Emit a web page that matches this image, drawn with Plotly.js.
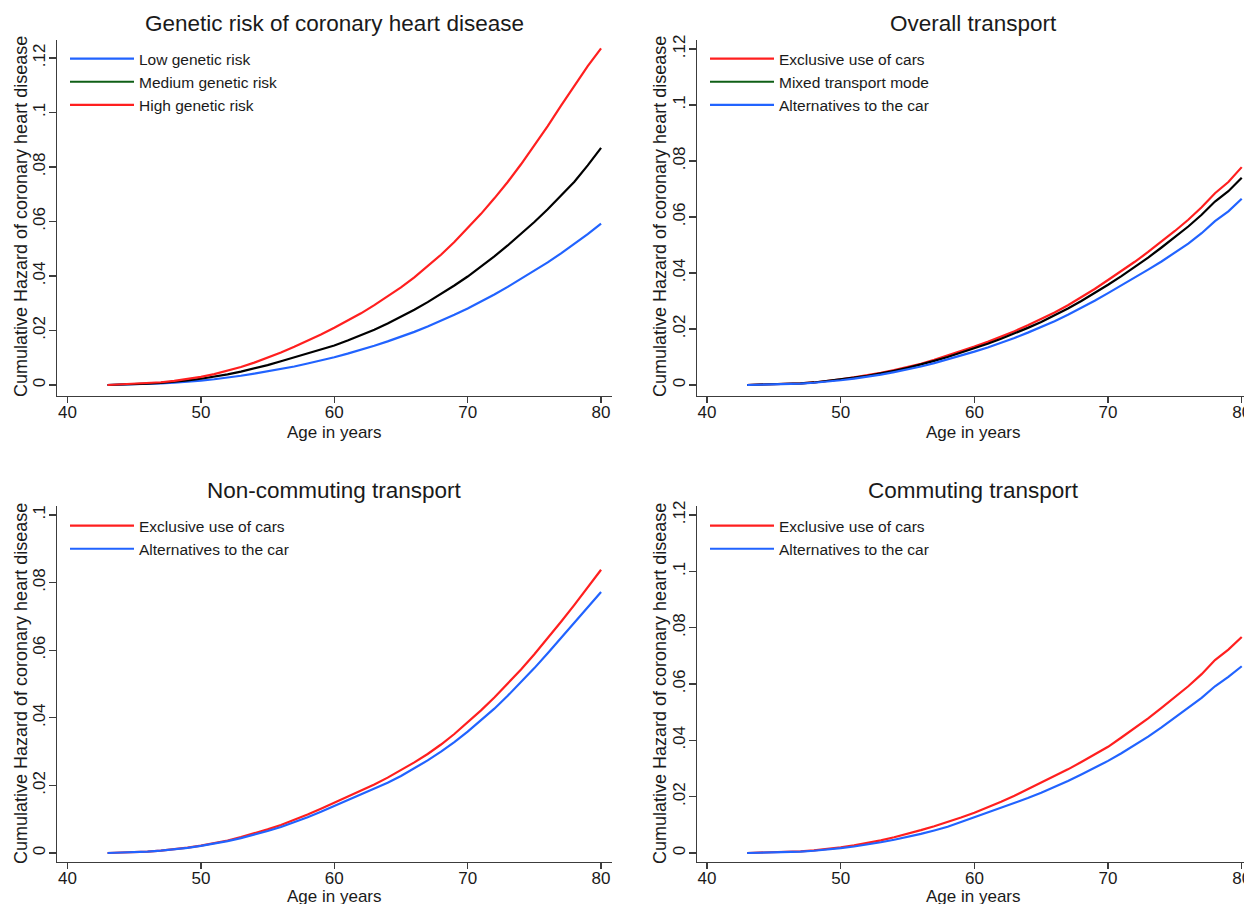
<!DOCTYPE html>
<html>
<head>
<meta charset="utf-8">
<script src="https://cdn.plot.ly/plotly-3.0.1.min.js"></script>
<style>html,body{margin:0;padding:0;background:#fff;overflow:hidden;}#chart{width:1244px;height:904px;}</style>
</head>
<body>
<div id="chart"></div>
<script>
// ---- data ----
const ages = [43,44,45,46,47,48,49,50,51,52,53,54,55,56,57,58,59,60,61,62,63,64,65,66,67,68,69,70,71,72,73,74,75,76,77,78,79,80];

// Panel 1: Genetic risk
const geneticLow = [0,0.0001,0.0002,0.0004,0.0006,0.0009,0.0012,0.0016,0.0021,0.0027,0.0034,0.0042,0.0050,0.0059,0.0068,0.0079,0.0090,0.0102,0.0115,0.0129,0.0144,0.0160,0.0177,0.0195,0.0215,0.0236,0.0258,0.0281,0.0306,0.0332,0.0360,0.0389,0.0419,0.0450,0.0483,0.0518,0.0554,0.0592];
const geneticMedium = [0,0.0001,0.0003,0.0005,0.0008,0.0012,0.0017,0.0023,0.0030,0.0039,0.0049,0.0060,0.0073,0.0087,0.0102,0.0116,0.0130,0.0145,0.0163,0.0182,0.0203,0.0226,0.0250,0.0276,0.0304,0.0334,0.0365,0.0398,0.0434,0.0472,0.0512,0.0554,0.0598,0.0645,0.0694,0.0746,0.0806,0.0870];
const geneticHigh = [0,0.0002,0.0004,0.0006,0.0010,0.0015,0.0022,0.0030,0.0040,0.0052,0.0066,0.0082,0.0100,0.0119,0.0140,0.0162,0.0185,0.0210,0.0236,0.0263,0.0293,0.0325,0.0358,0.0395,0.0435,0.0478,0.0525,0.0575,0.0628,0.0685,0.0745,0.0810,0.0878,0.0950,0.1025,0.1100,0.1170,0.1235];

// Panel 2: Overall transport
const overallCars = [0,0.0001,0.0002,0.0004,0.0006,0.0009,0.0014,0.0020,0.0027,0.0034,0.0043,0.0053,0.0064,0.0076,0.0090,0.0105,0.0120,0.0137,0.0154,0.0172,0.0192,0.0213,0.0235,0.0259,0.0285,0.0313,0.0343,0.0375,0.0407,0.0440,0.0475,0.0512,0.0550,0.0590,0.0635,0.0685,0.0725,0.0778];
const overallMixed = [0,0.0001,0.0002,0.0004,0.0006,0.0009,0.0014,0.0019,0.0026,0.0033,0.0041,0.0051,0.0061,0.0073,0.0086,0.0100,0.0115,0.0131,0.0147,0.0165,0.0184,0.0204,0.0225,0.0248,0.0273,0.0300,0.0328,0.0358,0.0389,0.0421,0.0455,0.0491,0.0528,0.0566,0.0608,0.0655,0.0692,0.0740];
const overallAlt = [0,0.0001,0.0002,0.0003,0.0005,0.0008,0.0012,0.0017,0.0023,0.0029,0.0037,0.0046,0.0055,0.0066,0.0078,0.0091,0.0105,0.0119,0.0134,0.0150,0.0168,0.0187,0.0207,0.0228,0.0251,0.0275,0.0301,0.0328,0.0355,0.0383,0.0412,0.0441,0.0472,0.0505,0.0542,0.0585,0.0620,0.0665];

// Panel 3: Non-commuting transport
const nonCommCars = [0,0.0001,0.0002,0.0004,0.0007,0.0011,0.0016,0.0022,0.0029,0.0037,0.0047,0.0058,0.0070,0.0083,0.0098,0.0114,0.0131,0.0149,0.0166,0.0184,0.0203,0.0223,0.0245,0.0268,0.0293,0.0321,0.0352,0.0386,0.0422,0.0460,0.0500,0.0543,0.0588,0.0635,0.0684,0.0734,0.0785,0.0838];
const nonCommAlt = [0,0.0001,0.0002,0.0004,0.0007,0.0010,0.0015,0.0021,0.0027,0.0035,0.0044,0.0054,0.0065,0.0077,0.0091,0.0106,0.0122,0.0139,0.0155,0.0172,0.0190,0.0208,0.0228,0.0250,0.0274,0.0300,0.0328,0.0359,0.0392,0.0427,0.0465,0.0505,0.0547,0.0591,0.0636,0.0681,0.0726,0.0772];

// Panel 4: Commuting transport
const commCars = [0,0.0001,0.0002,0.0004,0.0006,0.0009,0.0014,0.0020,0.0027,0.0035,0.0045,0.0056,0.0068,0.0081,0.0095,0.0110,0.0126,0.0143,0.0162,0.0182,0.0203,0.0226,0.0250,0.0273,0.0297,0.0323,0.0349,0.0377,0.0410,0.0443,0.0478,0.0515,0.0553,0.0592,0.0635,0.0685,0.0722,0.0767];
const commAlt = [0,0.0001,0.0002,0.0003,0.0005,0.0008,0.0012,0.0017,0.0023,0.0030,0.0038,0.0047,0.0057,0.0068,0.0080,0.0093,0.0110,0.0127,0.0143,0.0159,0.0176,0.0195,0.0214,0.0234,0.0256,0.0279,0.0302,0.0327,0.0354,0.0382,0.0413,0.0446,0.0481,0.0515,0.0551,0.0592,0.0625,0.0663];

const panelTitles = ["Genetic risk of coronary heart disease","Overall transport","Non-commuting transport","Commuting transport"];
const xTickVals = [40,50,60,70,80];
const xTickText = ["40","50","60","70","80"];
const yTickVals12 = [0,0.02,0.04,0.06,0.08,0.1,0.12];
const yTickText12 = ["0",".02",".04",".06",".08",".1",".12"];
const yTickVals10 = [0,0.02,0.04,0.06,0.08,0.1];
const yTickText10 = ["0",".02",".04",".06",".08",".1"];
const xTitle = "Age in years";
const yTitle = "Cumulative Hazard of coronary heart disease";

// ---- styles ----
const RED = "#ff1f1f", BLUE = "#2163ff", BLACK = "#000000", GREEN = "#0f5f16";
const FONT = "Liberation Sans, Arial, Helvetica, sans-serif";
const TXT = "#1a1a1a";
const AXC = "#3c3c3c";
const LW = 2.2;

function line(x, y, name, color, xa, ya, leg, show, group) {
  return {x: x, y: y, name: name, type: "scatter", mode: "lines",
    line: {color: color, width: LW}, xaxis: xa, yaxis: ya,
    legend: leg, showlegend: show, legendgroup: group, hoverinfo: "skip"};
}
function legendOnly(name, color, xa, ya, leg, group) {
  return {x: [null], y: [null], name: name, type: "scatter", mode: "lines",
    line: {color: color, width: LW}, xaxis: xa, yaxis: ya,
    legend: leg, showlegend: true, legendgroup: group, hoverinfo: "skip"};
}

const traces = [
  line(ages, geneticLow, "Low genetic risk", BLUE, "x", "y", "legend", true, "a1"),
  legendOnly("Medium genetic risk", GREEN, "x", "y", "legend", "a2"),
  line(ages, geneticMedium, "Medium genetic risk", BLACK, "x", "y", "legend", false, "a2"),
  line(ages, geneticHigh, "High genetic risk", RED, "x", "y", "legend", true, "a3"),
  line(ages, overallCars, "Exclusive use of cars", RED, "x2", "y2", "legend2", true, "b1"),
  legendOnly("Mixed transport mode", GREEN, "x2", "y2", "legend2", "b2"),
  line(ages, overallMixed, "Mixed transport mode", BLACK, "x2", "y2", "legend2", false, "b2"),
  line(ages, overallAlt, "Alternatives to the car", BLUE, "x2", "y2", "legend2", true, "b3"),
  line(ages, nonCommCars, "Exclusive use of cars", RED, "x3", "y3", "legend3", true, "c1"),
  line(ages, nonCommAlt, "Alternatives to the car", BLUE, "x3", "y3", "legend3", true, "c2"),
  line(ages, commCars, "Exclusive use of cars", RED, "x4", "y4", "legend4", true, "d1"),
  line(ages, commAlt, "Alternatives to the car", BLUE, "x4", "y4", "legend4", true, "d2")
];

const W = 1244, H = 904;
function xd(a, b) { return [a / W, Math.min(b / W, 1)]; }
function yd(top, bottom) { return [1 - bottom / H, 1 - top / H]; }

function xAxis(domain, range, anchor) {
  return {domain: domain, range: range, anchor: anchor,
    tickvals: xTickVals, ticktext: xTickText, ticklabeloverflow: "allow",
    showline: true, linecolor: AXC, linewidth: 1.3,
    ticks: "outside", ticklen: 6, tickwidth: 1.3, tickcolor: AXC,
    ticklabelstandoff: -6,
    showgrid: false, zeroline: false,
    tickfont: {family: FONT, size: 17, color: TXT}};
}
function yAxis(domain, range, anchor, vals, text) {
  return {domain: domain, range: range, anchor: anchor,
    tickvals: vals, ticktext: text, tickangle: -90, ticklabeloverflow: "allow",
    showline: true, linecolor: AXC, linewidth: 1.3,
    ticks: "outside", ticklen: 7, tickwidth: 1.3, tickcolor: AXC,
    ticklabelstandoff: -3,
    showgrid: false, zeroline: false,
    tickfont: {family: FONT, size: 17, color: TXT}};
}
function legendAt(xpx, ypx) {
  return {x: xpx / W, y: 1 - ypx / H, xanchor: "left", yanchor: "top",
    bgcolor: "rgba(0,0,0,0)", itemwidth: 64, traceorder: "grouped", tracegroupgap: 0,
    font: {family: FONT, size: 15.5, color: TXT}};
}
function ann(text, xpx, ypx, size, angle) {
  return {text: text, x: xpx / W, y: 1 - ypx / H, xref: "paper", yref: "paper",
    xanchor: "center", yanchor: "middle", showarrow: false, textangle: angle || 0,
    font: {family: FONT, size: size, color: TXT}};
}

const layout = {
  width: W, height: H,
  margin: {l: 0, r: 0, t: 0, b: 0},
  paper_bgcolor: "#ffffff", plot_bgcolor: "#ffffff",
  showlegend: true,
  xaxis: xAxis(xd(57, 612), [39.21, 80.82], "y"),
  yaxis: yAxis(yd(40, 396), [-0.00404, 0.1266], "x", yTickVals12, yTickText12),
  xaxis2: xAxis(xd(697, 1244), [39.25, 80.17], "y2"),
  yaxis2: yAxis(yd(40, 396), [-0.00393, 0.1232], "x2", yTickVals12, yTickText12),
  xaxis3: xAxis(xd(57, 612), [39.21, 80.82], "y3"),
  yaxis3: yAxis(yd(506, 862), [-0.00266, 0.10266], "x3", yTickVals10, yTickText10),
  xaxis4: xAxis(xd(697, 1244), [39.25, 80.17], "y4"),
  yaxis4: yAxis(yd(506, 862), [-0.0032, 0.1232], "x4", yTickVals12, yTickText12),
  legend: legendAt(65, 42),
  legend2: legendAt(705, 42),
  legend3: legendAt(65, 509),
  legend4: legendAt(705, 509),
  annotations: [
    ann(panelTitles[0], 334, 23, 22.5),
    ann(panelTitles[1], 974, 23, 22.5),
    ann(panelTitles[2], 334, 490, 22.5),
    ann(panelTitles[3], 974, 490, 22.5),
    ann(xTitle, 334, 432, 17),
    ann(xTitle, 974, 432, 17),
    ann(xTitle, 334, 896, 17),
    ann(xTitle, 974, 896, 17),
    ann(yTitle, 21, 217, 18, -90),
    ann(yTitle, 660, 217, 18, -90),
    ann(yTitle, 21, 684, 18, -90),
    ann(yTitle, 660, 684, 18, -90)
  ]
};

Plotly.newPlot("chart", traces, layout, {staticPlot: true, displayModeBar: false});
</script>
</body>
</html>
